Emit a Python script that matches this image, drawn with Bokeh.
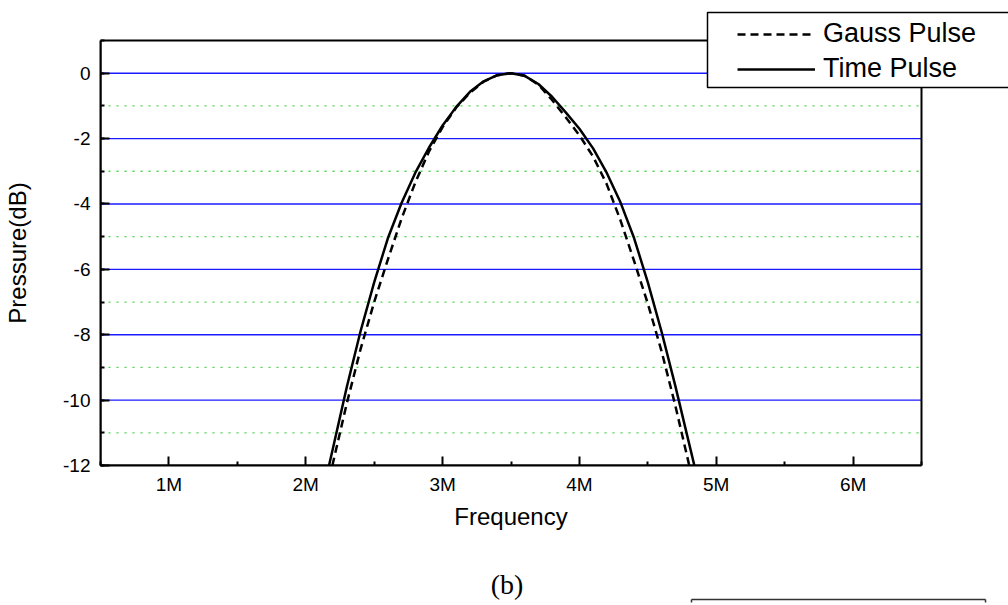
from bokeh.plotting import figure
from bokeh.models import (Range1d, SingleIntervalTicker, FixedTicker, CustomJSTickFormatter,
                          Legend, LegendItem, BoxAnnotation, LinearAxis, Title)
from bokeh.embed import file_html
from bokeh.resources import INLINE

# ---- data (frequency in MHz, pressure in dB) ----
freq_time = [2.17, 2.20, 2.30, 2.40, 2.50, 2.60, 2.70, 2.80, 2.90, 3.00, 3.10, 3.20, 3.30, 3.40, 3.50,
             3.60, 3.70, 3.80, 3.90, 4.00, 4.10, 4.20, 4.30, 4.40, 4.50, 4.60, 4.70, 4.80, 4.84]
db_time = [-12.0, -11.45, -9.6, -7.9, -6.4, -5.05, -3.97, -3.05, -2.28, -1.6, -1.03, -0.57, -0.25, -0.06, 0.0,
           -0.08, -0.33, -0.72, -1.2, -1.7, -2.3, -3.05, -3.95, -5.05, -6.4, -7.9, -9.55, -11.3, -12.0]

freq_gauss = [2.195, 2.20, 2.30, 2.40, 2.50, 2.60, 2.70, 2.80, 2.90, 3.00, 3.10, 3.20, 3.30, 3.40, 3.50,
              3.60, 3.70, 3.80, 3.90, 4.00, 4.10, 4.20, 4.30, 4.40, 4.50, 4.60, 4.70, 4.80, 4.803]
db_gauss = [-12.0, -11.9, -10.1, -8.45, -7.0, -5.7, -4.45, -3.35, -2.4, -1.65, -1.05, -0.6, -0.26, -0.06, 0.0,
            -0.08, -0.35, -0.82, -1.35, -1.9, -2.55, -3.4, -4.5, -5.75, -7.05, -8.5, -10.15, -11.95, -12.0]

series_names = ["Gauss Pulse", "Time Pulse"]
x_lo, x_hi = 0.5, 6.5
y_lo, y_hi = -12, 1
x_ticks = [1, 2, 3, 4, 5, 6]
x_minor_ticks = [0.5, 1.5, 2.5, 3.5, 4.5, 5.5, 6.5]
x_tick_labels = ["1M", "2M", "3M", "4M", "5M", "6M"]
y_major = [0, -2, -4, -6, -8, -10]
y_minor = [-1, -3, -5, -7, -9, -11]
x_title = "Frequency"
y_title = "Pressure(dB)"
caption = "(b)"

FONT = "Liberation Sans"
W, H = 1008, 605
FL, FR, FT, FB = 100, 921, 40, 465          # visible plot box in pixels
ppx = (FR - FL) / (x_hi - x_lo)
ppy = (FB - FT) / (y_hi - y_lo)

p = figure(width=W, height=H, output_backend="svg", toolbar_location=None,
           x_range=Range1d(x_lo, x_lo + (W - FL) / ppx),
           y_range=Range1d(y_lo, y_hi + FT / ppy),
           min_border_left=FL, min_border_right=0, min_border_top=0, min_border_bottom=H - FB)
p.background_fill_color = "white"
p.border_fill_color = "white"
p.outline_line_color = None
p.xgrid.visible = False
p.ygrid.visible = False

# axes
xa = p.xaxis[0]
ya = p.yaxis[0]
xa.bounds = (x_lo, x_hi)
ya.bounds = (y_lo, y_hi)
xa.ticker = FixedTicker(ticks=x_ticks, minor_ticks=x_minor_ticks)
xa.formatter = CustomJSTickFormatter(args=dict(vals=x_ticks, labels=x_tick_labels),
                                     code="const i = vals.indexOf(tick); return i >= 0 ? labels[i] : '';")
ya.ticker = SingleIntervalTicker(interval=2, num_minor_ticks=2)
ya.formatter = CustomJSTickFormatter(code="return tick.toFixed(0);")
for ax in (xa, ya):
    ax.axis_line_width = 2
    ax.axis_line_color = "black"
    ax.major_tick_in = 9
    ax.major_tick_out = 0
    ax.minor_tick_in = 4
    ax.minor_tick_out = 0
    ax.major_tick_line_width = 2
    ax.minor_tick_line_width = 2
    ax.major_label_text_font = FONT
    ax.major_label_text_font_size = "19px"
    ax.major_label_text_color = "black"
xa.major_label_standoff = 8
ya.major_label_standoff = 10


# axis titles, placed along the visible plot box
def txt_w(s, size):
    # rough Arial advance widths (per em) used only to centre the titles
    w = {"F": .611, "r": .333, "e": .556, "q": .556, "u": .556, "n": .556, "c": .5, "y": .5,
         "P": .667, "s": .5, "(": .333, ")": .333, "d": .556, "B": .667}
    return sum(w.get(ch, .55) for ch in s) * size


# a trailing empty line leaves room between the x title and the caption
xt = Title(text=x_title + "\n", align="left", offset=(FL + FR) / 2 - FL - txt_w(x_title, 24) / 2,
           text_font=FONT, text_font_size="24px", text_font_style="normal", text_color="black",
           text_line_height=1.2, standoff=8)
p.add_layout(xt, "below")
ct = Title(text=caption, align="left", offset=(FL + FR) / 2 - FL - 4 - 0.583 * 28,
           text_font="Liberation Serif", text_font_size="28px", text_font_style="normal",
           text_color="black", standoff=0)
p.add_layout(ct, "below")

yt = Title(text=y_title + "\n", align="left", offset=(FB - (FT + FB) / 2) - txt_w(y_title, 24) / 2,
           text_font=FONT, text_font_size="24px", text_font_style="normal", text_color="black",
           text_line_height=1.1, standoff=0)
p.add_layout(yt, "left")

# top edge of the next panel's box at the bottom right
nb_left, nb_right = 4.82, 6.97
nxt = LinearAxis(ticker=FixedTicker(ticks=[], minor_ticks=[nb_left, nb_right]), bounds=(nb_left, nb_right),
                 axis_line_color="#333333", axis_line_width=1.5,
                 major_tick_line_color=None, major_tick_out=0, major_tick_in=0,
                 minor_tick_line_color="#333333", minor_tick_line_width=1.5,
                 minor_tick_in=0, minor_tick_out=3, major_label_standoff=0)
p.add_layout(nxt, "below")

# grid lines inside the plot box
n = len(y_major)
p.segment(x0=[x_lo] * n, x1=[x_hi] * n, y0=y_major, y1=y_major, line_color="#1a1aff", line_width=1.4)
m = len(y_minor)
p.segment(x0=[x_lo] * m, x1=[x_hi] * m, y0=y_minor, y1=y_minor, line_color="#44dd44", line_width=1.3,
          line_dash="2 6")

# curves
g = p.line(freq_gauss, db_gauss, line_color="black", line_width=2.5, line_dash="8 5")
t = p.line(freq_time, db_time, line_color="black", line_width=2.5)

# plot box (top and right edges)
p.add_layout(BoxAnnotation(left=x_lo, right=x_hi, top=y_hi, bottom=y_lo, fill_alpha=0,
                           line_color="black", line_width=2, line_alpha=1))

# legend box
p.add_layout(BoxAnnotation(left=x_lo + (707 - FL) / ppx, right=x_hi + 2, top=y_hi + (FT - 12) / ppy,
                           bottom=y_hi - (87 - FT) / ppy, fill_color="white", fill_alpha=1,
                           line_color="black", line_width=1.5, line_alpha=1))

legend = Legend(items=[LegendItem(label=series_names[0], renderers=[g]),
                       LegendItem(label=series_names[1], renderers=[t])],
                location=(732 - FL, FB - 89), padding=5, spacing=4, glyph_width=78, glyph_height=30,
                label_standoff=8, label_text_font=FONT, label_text_font_size="27px",
                label_text_color="black", label_height=30,
                border_line_alpha=0, background_fill_alpha=0, margin=0)
p.add_layout(legend)

open("out.html", "w").write(file_html(p, INLINE))
